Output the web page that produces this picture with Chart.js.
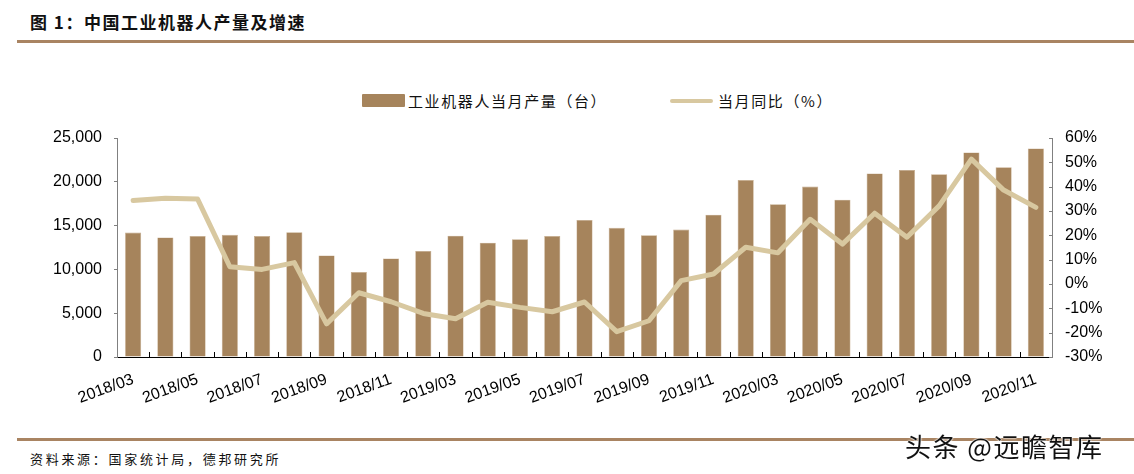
<!DOCTYPE html>
<html lang="zh">
<head>
    <meta charset="UTF-8">
    <title>中国工业机器人产量及增速</title>
    <script src="https://cdn.jsdelivr.net/npm/chart.js"></script>
    <style>
        body { margin: 0; width: 1134px; height: 474px; position: relative; background: #fff; overflow: hidden;
               font-family: "Noto Sans CJK SC", "Liberation Sans", sans-serif; color: #111; }
        #title { position: absolute; left: 30px; top: 9px; font-size: 17px; font-weight: bold; letter-spacing: 1.5px; }
        .rule { position: absolute; left: 17px; right: 0; height: 3px; background: #a98462; }
        #legend { position: absolute; top: 90px; left: 0; font-size: 15px; letter-spacing: 1.6px; }
        .item { position: absolute; white-space: nowrap; }
        .box { position: absolute; }
        #source { position: absolute; left: 30px; top: 449px; font-size: 13px; letter-spacing: 2.7px; }
        #mark { position: absolute; left: 905px; top: 427px; font-size: 26px; color: #111; letter-spacing: 1.5px;
                text-shadow: 0 0 2px #fff, 0 0 2px #fff, 0 0 1px #fff; }
        #wrap { position: absolute; left: 0; top: 115px; }
        #wrap canvas { display: block; }
    </style>
</head>
<body>
    <div id="title">图 1：中国工业机器人产量及增速</div>
    <div class="rule" style="top:40px"></div>

    <div id="legend">
        <div class="box" style="left:362px; top:4px; width:43px; height:13px; background:#a6845c; border-radius:1px"></div>
        <div class="item" style="left:408px; top:0">工业机器人当月产量（台）</div>
        <div class="box" style="left:670px; top:9px; width:43px; height:4px; background:#d8c8a0; border-radius:2px"></div>
        <div class="item" style="left:718px; top:0">当月同比（%）</div>
    </div>

    <div id="wrap"><canvas id="chart" width="1134" height="325"></canvas></div>

    <div class="rule" style="top:438px"></div>
    <div id="source">资料来源：国家统计局，德邦研究所</div>
    <div id="mark">头条 @远瞻智库</div>

    <script>
        // months (Jan/Feb are reported together, so they are missing)
        const months = ['2018/03','2018/04','2018/05','2018/06','2018/07','2018/08','2018/09','2018/10','2018/11','2018/12',
                        '2019/03','2019/04','2019/05','2019/06','2019/07','2019/08','2019/09','2019/10','2019/11','2019/12',
                        '2020/03','2020/04','2020/05','2020/06','2020/07','2020/08','2020/09','2020/10','2020/11'];
        // monthly output of industrial robots (units)
        const output = [14200,13650,13800,13950,13800,14250,11600,9700,11250,12100,
                        13850,13050,13450,13800,15650,14750,13900,14550,16250,20200,
                        17450,19450,17950,20950,21350,20850,23350,21650,23800];
        // year-on-year growth (%)
        const yoy = [34.3,35.2,34.9,7.1,6.0,8.8,-16.4,-3.6,-7.3,-12.1,
                     -14.3,-7.5,-9.6,-11.4,-7.4,-19.6,-15.1,1.4,4.1,15.1,
                     12.8,26.6,16.4,29.1,19.2,32.1,51.3,38.6,31.5];

        const numFont = { family: '"Liberation Sans", Arial, sans-serif', size: 16, lineHeight: 1.25 };

        // tick marks that point into the plot area
        const innerTicks = {
            id: 'innerTicks',
            afterDraw(chart) {
                const ctx = chart.ctx, x = chart.scales.x, r = chart.scales.y1, a = chart.chartArea;
                ctx.save();
                ctx.lineWidth = 1;
                ctx.strokeStyle = '#000';
                ctx.beginPath();
                for (let i = 1; i < months.length; i++) {
                    const px = Math.round(x.getPixelForValue(i - 0.5)) + 0.5;
                    ctx.moveTo(px, a.bottom);
                    ctx.lineTo(px, a.bottom - 5);
                }
                ctx.stroke();
                ctx.strokeStyle = '#808080';
                ctx.beginPath();
                for (let v = -30; v <= 60; v += 10) {
                    const py = Math.round(r.getPixelForValue(v)) + 0.5;
                    ctx.moveTo(a.right, py);
                    ctx.lineTo(a.right - 3, py);
                }
                ctx.stroke();
                ctx.restore();
            }
        };

        new Chart(document.getElementById('chart'), {
            data: {
                labels: months,
                datasets: [
                    { type: 'line', label: '当月同比（%）', data: yoy, yAxisID: 'y1',
                      borderColor: '#d8c8a0', borderWidth: 5, pointRadius: 0, tension: 0,
                      borderCapStyle: 'round', borderJoinStyle: 'round' },
                    { type: 'bar', label: '工业机器人当月产量（台）', data: output, yAxisID: 'y',
                      backgroundColor: '#a6845c', borderColor: '#c4a988', borderWidth: 0.6,
                      barPercentage: 0.5, categoryPercentage: 1 }
                ]
            },
            options: {
                responsive: false,
                animation: false,
                devicePixelRatio: 1,
                layout: { padding: 0 },
                plugins: { legend: { display: false }, tooltip: { enabled: false } },
                scales: {
                    x: {
                        offset: true,
                        grid: { display: false },
                        border: { display: true, color: '#000', width: 1 },
                        ticks: {
                            autoSkip: false, minRotation: 20, maxRotation: 20, padding: 5,
                            color: '#000', font: { family: numFont.family, size: 16 },
                            callback: (v, i) => i % 2 === 0 ? months[i] : ''
                        },
                        afterFit: s => { s.height = 83; }
                    },
                    y: {
                        position: 'left', min: 0, max: 25000,
                        grid: { drawOnChartArea: false, tickLength: 3, color: '#808080' },
                        border: { color: '#808080' },
                        ticks: { stepSize: 5000, padding: 12, color: '#000', font: numFont,
                                 callback: v => v.toLocaleString('en-US') },
                        afterFit: s => { s.width = 117; }
                    },
                    y1: {
                        position: 'right', min: -30, max: 60,
                        grid: { drawOnChartArea: false, drawTicks: false, color: '#808080' },
                        border: { color: '#808080' },
                        ticks: { stepSize: 10, padding: 13, color: '#000', font: numFont,
                                 callback: v => v + '%' },
                        afterFit: s => { s.width = 82; }
                    }
                }
            },
            plugins: [innerTicks]
        });
    </script>
</body>
</html>
